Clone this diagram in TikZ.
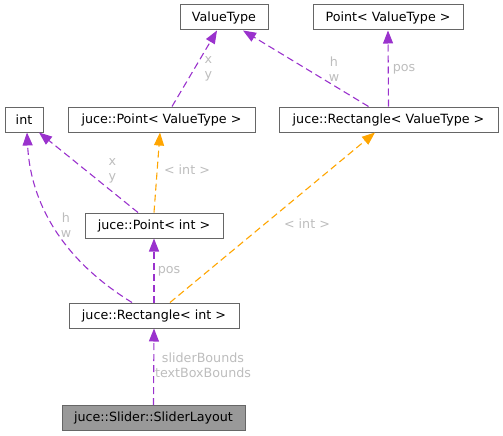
\documentclass[tikz,border=0pt]{standalone}
\usepackage{fontspec}
\setmainfont{DejaVu Sans}
\usetikzlibrary{arrows.meta}
\definecolor{edgepurple}{HTML}{9A32CD}
\definecolor{edgeorange}{HTML}{FFA500}
\definecolor{boxborder}{HTML}{666666}
\definecolor{labelgray}{HTML}{BDBDBD}
\definecolor{curfill}{HTML}{999999}
\begin{document}
\begin{tikzpicture}[x=1pt,y=-1pt,
  every node/.style={font=\fontsize{12.7}{15}\selectfont},
  classbox/.style={draw=boxborder, line width=1pt, fill=white, inner sep=0pt, minimum height=25pt, anchor=center},
  curbox/.style={classbox, fill=curfill},
  pedge/.style={draw=edgepurple, line width=1.1pt, dash pattern=on 7pt off 4pt, -{Triangle[length=13pt,width=10pt]}},
  oedge/.style={draw=edgeorange, line width=1.1pt, dash pattern=on 7pt off 4pt, -{Triangle[length=13pt,width=10pt]}},
  elabel/.style={text=labelgray, inner sep=0pt, align=center}]
\useasboundingbox (0,0) rectangle (503,436);

\node[classbox, minimum width=88pt] (vt) at (224,17.5) {ValueType};
\node[classbox, minimum width=150pt] (pt) at (388,17.5) {Point< ValueType >};
\node[classbox, minimum width=38pt] (int) at (24,119.5) {int};
\node[classbox, minimum width=187pt] (pvt) at (161.5,119.5) {juce::Point< ValueType >};
\node[classbox, minimum width=219pt] (rvt) at (388.5,119.5) {juce::Rectangle< ValueType >};
\node[classbox, minimum width=138pt] (pint) at (154,225.5) {juce::Point< int >};
\node[classbox, minimum width=170pt] (rint) at (154,315.5) {juce::Rectangle< int >};
\node[curbox, minimum width=183pt] (sl) at (153.5,418) {juce::Slider::SliderLayout};

% edges
\draw[pedge] ([xshift=10.5pt]pvt.north) -- ([xshift=-7pt]vt.south);
\draw[pedge] ([xshift=-20pt]rvt.north) -- ([xshift=19pt]vt.south);
\draw[pedge] (rvt.north) -- (pt.south);
\draw[pedge] ([xshift=-16pt]pint.north) -- ([xshift=15pt]int.south);
\draw[oedge] (pint.north) -- ([xshift=-1.5pt]pvt.south);
\draw[pedge] ([xshift=-22pt]rint.north) .. controls (55,255) and (30,195) .. ([xshift=3pt]int.south);
\draw[pedge] (rint.north) -- (pint.south);
\draw[oedge] ([xshift=16pt]rint.north) -- ([xshift=-13.5pt]rvt.south);
\draw[pedge] (sl.north) -- (rint.south);

% labels
\node[elabel] (lxy1) at (208.5,69) {x\\y};
\node[elabel] (lhw1) at (334,69) {h\\w};
\node[elabel] (lpos1) at (404,69) {pos};
\node[elabel] (lxy2) at (112.5,171) {x\\y};
\node[elabel] (lint1) at (187,170) {< int >};
\node[elabel] (lhw2) at (66,225) {h\\w};
\node[elabel] (lpos2) at (169,271) {pos};
\node[elabel] (lint2) at (307,224) {< int >};
\node[elabel] (lsb) at (203,365) {sliderBounds\\textBoxBounds};
\end{tikzpicture}
\end{document}
